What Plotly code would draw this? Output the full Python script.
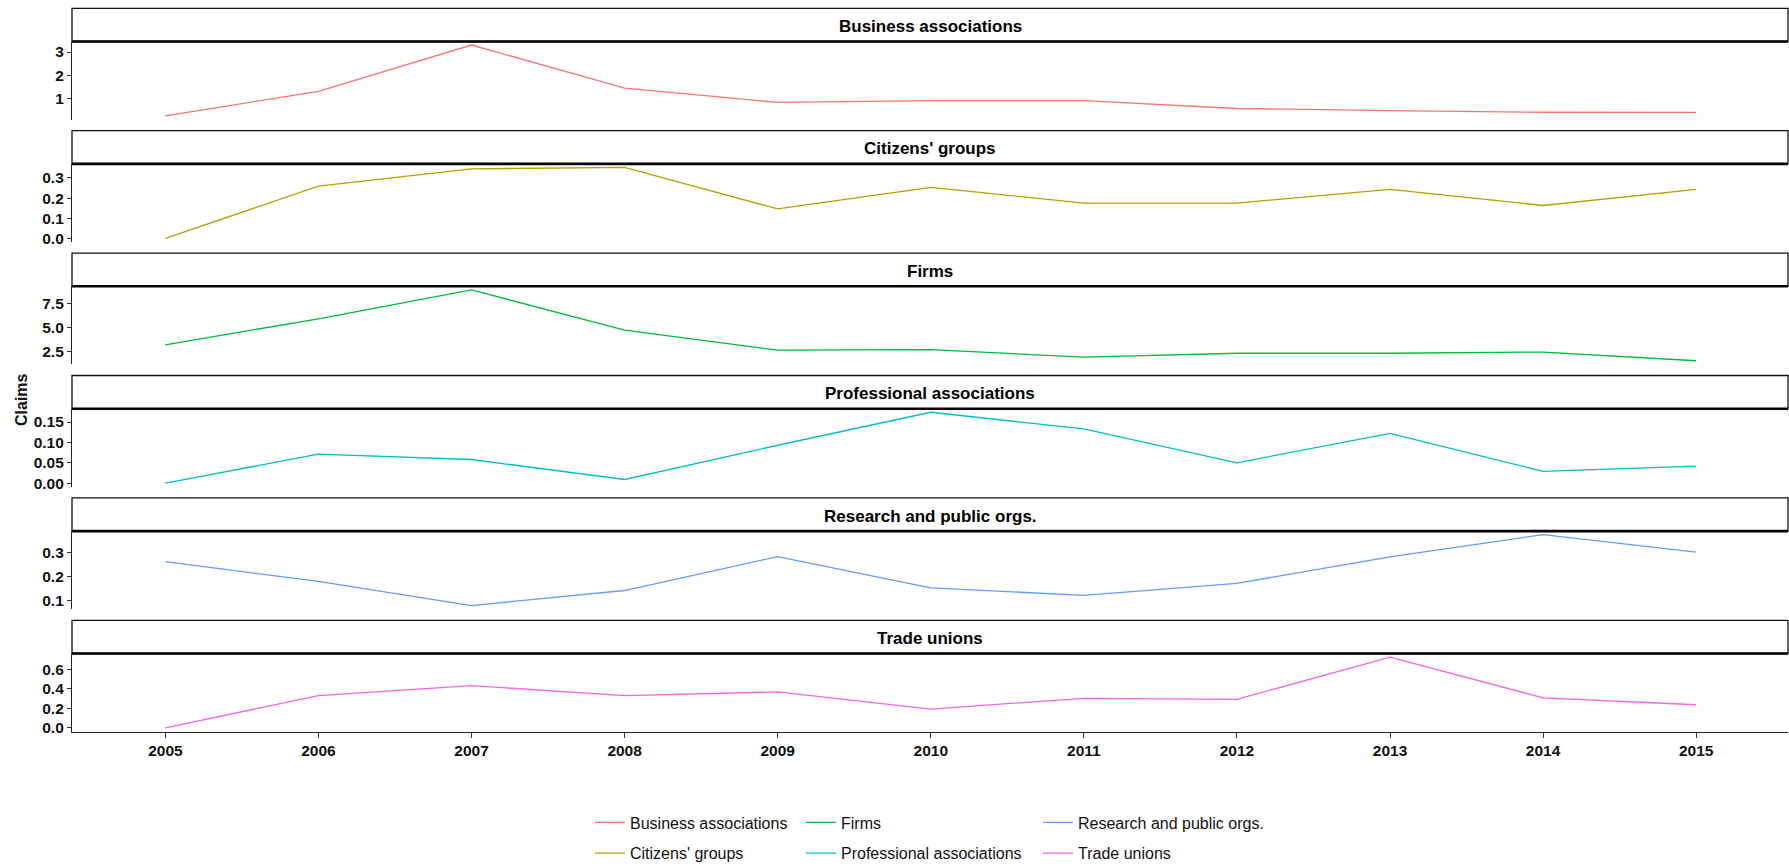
import plotly.graph_objects as go

# ---------------- data ----------------
years = [2005, 2006, 2007, 2008, 2009, 2010, 2011, 2012, 2013, 2014, 2015]

categories = ["Business associations", "Citizens' groups", "Firms",
              "Professional associations", "Research and public orgs.", "Trade unions"]

business_associations = [0.25, 1.31, 3.30, 1.45, 0.83, 0.91, 0.91, 0.57, 0.48, 0.41, 0.40]
citizens_groups = [0.0, 0.259, 0.345, 0.352, 0.146, 0.253, 0.175, 0.175, 0.243, 0.163, 0.243]
firms = [3.2, 5.9, 8.9, 4.72, 2.65, 2.7, 1.93, 2.33, 2.33, 2.45, 1.55]
professional_associations = [0.0, 0.071, 0.058, 0.009, 0.093, 0.174, 0.133, 0.050, 0.122, 0.029, 0.042]
research_public_orgs = [0.262, 0.179, 0.078, 0.141, 0.283, 0.152, 0.121, 0.171, 0.282, 0.375, 0.302]
trade_unions = [0.0, 0.331, 0.432, 0.331, 0.368, 0.192, 0.303, 0.292, 0.724, 0.308, 0.237]

series = [business_associations, citizens_groups, firms,
          professional_associations, research_public_orgs, trade_unions]

colors = ["#F8766D", "#B79F00", "#00BA38", "#00BFC4", "#619CFF", "#F564E3"]

ytick_values = [
    [1, 2, 3],
    [0.0, 0.1, 0.2, 0.3],
    [2.5, 5.0, 7.5],
    [0.00, 0.05, 0.10, 0.15],
    [0.1, 0.2, 0.3],
    [0.0, 0.2, 0.4, 0.6],
]
ytick_labels = [
    ["1", "2", "3"],
    ["0.0", "0.1", "0.2", "0.3"],
    ["2.5", "5.0", "7.5"],
    ["0.00", "0.05", "0.10", "0.15"],
    ["0.1", "0.2", "0.3"],
    ["0.0", "0.2", "0.4", "0.6"],
]
xtick_labels = [str(y) for y in years]

# legend layout: ggplot-style 2 rows x 3 columns
legend_ids = ["legend", "legend", "legend2", "legend2", "legend3", "legend3"]

# ---------------- layout geometry (pixels) ----------------
W, H = 1789, 866
left_px, right_px = 72, 1788
strip_top0 = 8.3
strip_h = 33.2
panel_h = 78.0
period = 122.4

FONT = "Liberation Sans, Arial, sans-serif"

def py(px):
    return 1 - px / H

x_dom = [left_px / W, right_px / W]

fig = go.Figure()
shapes = []
annotations = []
layout_axes = {}

n = len(categories)
for i in range(n):
    k = "" if i == 0 else str(i + 1)
    s_top = strip_top0 + period * i
    s_bot = s_top + strip_h
    p_bot = s_bot + panel_h

    vals = series[i]
    fig.add_trace(go.Scatter(
        x=years, y=vals, mode="lines", name=categories[i],
        line=dict(color=colors[i], width=1.3),
        xaxis="x" + k, yaxis="y" + k,
        legend=legend_ids[i], legendgroup=categories[i],
        showlegend=True,
    ))

    lo, hi = min(vals), max(vals)
    pad = 0.05 * (hi - lo)
    last = (i == n - 1)

    layout_axes["xaxis" + k] = dict(
        domain=x_dom, anchor="y" + k, range=[2004.39, 2015.6],
        showgrid=False, zeroline=False,
        showline=last, linecolor="#222", linewidth=1.2,
        showticklabels=last, ticks="outside" if last else "",
        ticklen=5, tickcolor="#333", tickwidth=1,
        tickvals=years, ticktext=xtick_labels,
        tickfont=dict(family=FONT, size=15.5, color="#111", weight="bold"),
    )
    layout_axes["yaxis" + k] = dict(
        domain=[py(p_bot), py(s_bot)], anchor="x" + k,
        range=[lo - pad, hi + pad],
        showgrid=False, zeroline=False,
        showline=True, linecolor="#222", linewidth=1.2,
        ticks="outside", ticklen=4, tickcolor="#333", tickwidth=1,
        tickvals=ytick_values[i], ticktext=ytick_labels[i],
        tickfont=dict(family=FONT, size=15.5, color="#111", weight="bold"),
    )

    # strip box
    shapes.append(dict(type="rect", xref="paper", yref="paper",
                       x0=x_dom[0], x1=x_dom[1], y0=py(s_bot), y1=py(s_top),
                       line=dict(color="#111", width=1.3), fillcolor="white", layer="below"))
    shapes.append(dict(type="line", xref="paper", yref="paper",
                       x0=x_dom[0], x1=x_dom[1], y0=py(s_bot), y1=py(s_bot),
                       line=dict(color="#000", width=2.6)))
    annotations.append(dict(text=categories[i], xref="paper", yref="paper",
                            x=(x_dom[0] + x_dom[1]) / 2, y=py((s_top + s_bot) / 2 + 1.5),
                            xanchor="center", yanchor="middle", showarrow=False,
                            font=dict(family=FONT, size=17, color="#000", weight="bold")))

annotations.append(dict(text="Claims", xref="paper", yref="paper",
                        x=22 / W, y=py(400), textangle=-90,
                        xanchor="center", yanchor="middle", showarrow=False,
                        font=dict(family=FONT, size=16, color="#111", weight="bold")))

legend_common = dict(
    orientation="v", xanchor="left", yanchor="top", y=py(805.5),
    font=dict(family=FONT, size=16, color="#111"),
    bgcolor="rgba(0,0,0,0)", borderwidth=0,
    traceorder="grouped", tracegroupgap=7, itemwidth=30,
)

fig.update_layout(
    width=W, height=H,
    margin=dict(l=0, r=0, t=0, b=0, autoexpand=False),
    paper_bgcolor="white", plot_bgcolor="white",
    shapes=shapes, annotations=annotations,
    legend=dict(x=590 / W, **legend_common),
    legend2=dict(x=801 / W, **legend_common),
    legend3=dict(x=1038 / W, **legend_common),
    **layout_axes,
)

fig.write_html("out.html")
